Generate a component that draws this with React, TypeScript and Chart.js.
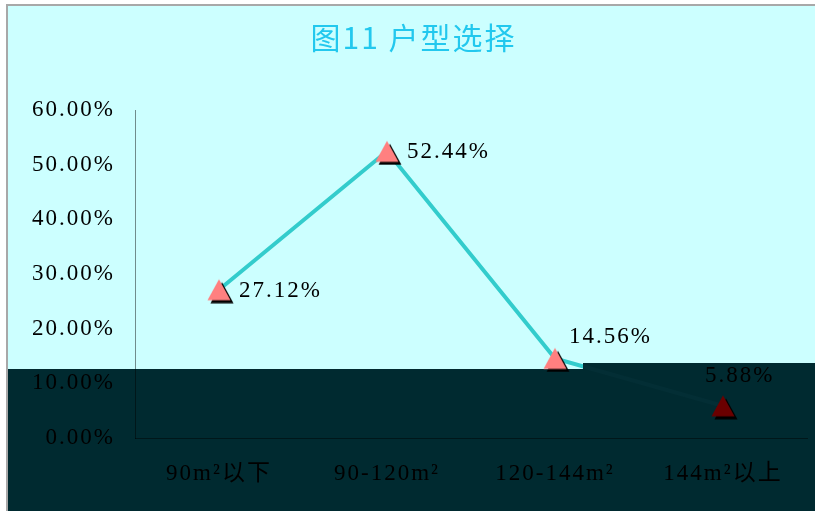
import React, { useEffect, useRef } from "react";
import { Chart, registerables } from "chart.js";

Chart.register(...registerables);

// ---- data ----
const titleText = "图11 户型选择";
const categories = ["90m²以下", "90-120m²", "120-144m²", "144m²以上"];
const shares = [27.12, 52.44, 14.56, 5.88];
const valueLabels = ["27.12%", "52.44%", "14.56%", "5.88%"];
const yTickValues = [0, 10, 20, 30, 40, 50, 60];

// ---- styles ----
const labelDx = [20, 20, 14, -18];
const labelDy = [1, 1, -21, -30];
const pointFills = ["#ff8080", "#ff8080", "#ff8080", "#6a0000"];
const LIGHT_BG = "#ccffff";
const DARK_BG = "#002a30";
const SERIF = '"Liberation Serif", "Noto Sans CJK SC", serif';

function makeTriangle(fill: string): HTMLCanvasElement {
  const c = document.createElement("canvas");
  c.width = 30;
  c.height = 28;
  const g = c.getContext("2d") as CanvasRenderingContext2D;
  const cx = 15, cy = 14, w = 23, h = 21;
  const tri = (ox: number, oy: number, col: string) => {
    g.beginPath();
    g.moveTo(cx + ox, cy - h / 2 + oy);
    g.lineTo(cx + w / 2 + ox, cy + h / 2 + oy);
    g.lineTo(cx - w / 2 + ox, cy + h / 2 + oy);
    g.closePath();
    g.fillStyle = col;
    g.fill();
  };
  tri(3, 3, "#000");
  tri(0, 0, fill);
  return c;
}

const bgPlugin = {
  id: "bgPlugin",
  beforeUpdate(chart: any) {
    chart.ctx.letterSpacing = "2px";
  },
  beforeDraw(chart: any) {
    const ctx = chart.ctx as CanvasRenderingContext2D;
    const W = chart.width, H = chart.height;
    (ctx as any).letterSpacing = "2px";
    ctx.save();
    ctx.fillStyle = "#ffffff";
    ctx.fillRect(0, 0, W, H);
    ctx.fillStyle = "#a8a8a8";
    ctx.fillRect(6, 4, W - 6, H - 4);
    ctx.fillStyle = LIGHT_BG;
    ctx.fillRect(8, 6, W - 8, H - 6);
    ctx.fillStyle = DARK_BG;
    ctx.fillRect(8, 369, 583 - 8, H - 369);
    ctx.fillRect(583, 363, W - 583, H - 363);
    ctx.restore();
  },
};

const labelPlugin = {
  id: "labelPlugin",
  afterDatasetsDraw(chart: any) {
    const ctx = chart.ctx as CanvasRenderingContext2D;
    const meta = chart.getDatasetMeta(0);
    ctx.save();
    (ctx as any).letterSpacing = "2px";
    ctx.font = `23px ${SERIF}`;
    ctx.fillStyle = "#000";
    ctx.textAlign = "left";
    ctx.textBaseline = "middle";
    meta.data.forEach((pt: any, i: number) => {
      ctx.fillText(valueLabels[i], pt.x + labelDx[i], pt.y + labelDy[i]);
    });
    ctx.restore();
  },
};

export default function App() {
  const ref = useRef<HTMLCanvasElement | null>(null);

  useEffect(() => {
    const canvas = ref.current;
    if (!canvas) return;
    const triangles = pointFills.map((f) => makeTriangle(f));

    const chart = new Chart(canvas, {
      type: "line",
      data: {
        labels: categories,
        datasets: [
          {
            data: shares,
            borderWidth: 4,
            tension: 0,
            borderColor: (c: any) => {
              const ch = c.chart;
              const w = ch.width || 815;
              const g = ch.ctx.createLinearGradient(0, 0, w, 0);
              const p = 583 / w;
              g.addColorStop(0, "#33cccc");
              g.addColorStop(p, "#33cccc");
              g.addColorStop(Math.min(1, p + 0.0005), "#032e35");
              g.addColorStop(1, "#032e35");
              return g;
            },
            pointStyle: (c: any) => triangles[c.dataIndex] as any,
            pointRadius: 11,
            pointHoverRadius: 11,
          } as any,
        ],
      },
      options: {
        responsive: false,
        animation: false,
        devicePixelRatio: 1,
        events: [],
        layout: { autoPadding: false, padding: { left: 20, right: 8, top: 0, bottom: 0 } },
        plugins: {
          legend: { display: false },
          tooltip: { enabled: false },
          title: {
            display: true,
            text: titleText,
            color: "#22c8ee",
            font: { family: '"Noto Sans CJK SC", sans-serif', size: 30, weight: "normal", lineHeight: 1.2 },
            padding: { top: 20, bottom: 54 },
          },
        },
        scales: {
          x: {
            type: "category",
            offset: true,
            grid: { display: false, drawTicks: false, tickLength: 0 },
            border: { display: true, color: "rgba(0,0,0,0.45)", width: 1 },
            ticks: {
              color: "#000",
              font: { family: SERIF, size: 23 },
              padding: 22,
              maxRotation: 0,
              autoSkip: false,
            },
            afterFit: (s: any) => {
              s.height = 73;
              s.paddingLeft = 0;
              s.paddingRight = 0;
            },
          },
          y: {
            min: 0,
            max: 60,
            grid: { display: false, drawTicks: false, tickLength: 0 },
            border: { display: true, color: "rgba(0,0,0,0.45)", width: 1 },
            afterBuildTicks: (s: any) => {
              s.ticks = yTickValues.map((v) => ({ value: v }));
            },
            ticks: {
              color: "#000",
              font: { family: SERIF, size: 23 },
              padding: 20,
              callback: (v: any) => Number(v).toFixed(2) + "%",
            },
            afterFit: (s: any) => {
              s.width = 115;
            },
          },
        },
      } as any,
      plugins: [bgPlugin, labelPlugin],
    });

    return () => chart.destroy();
  }, []);

  return (
    <div style={{ position: "fixed", left: 0, top: 0, width: 815, height: 511 }}>
      <canvas ref={ref} width={815} height={511} style={{ display: "block", width: 815, height: 511 }} />
    </div>
  );
}
